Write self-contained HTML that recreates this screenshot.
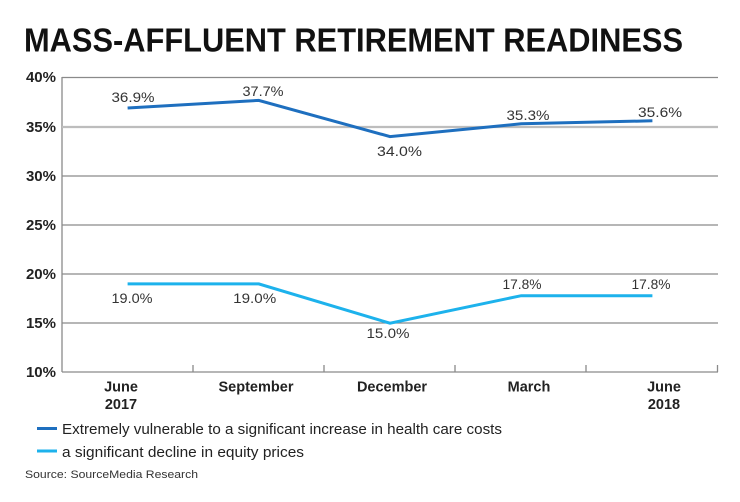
<!DOCTYPE html>
<html><head><meta charset="utf-8"><style>
html,body{margin:0;padding:0;background:#fff;}
svg{display:block;font-family:"Liberation Sans",Arial,sans-serif;}
</style></head><body>
<svg width="740" height="502" viewBox="0 0 740 502" xmlns="http://www.w3.org/2000/svg">
<rect width="740" height="502" fill="#fff"/>
<text x="24" y="51.5" font-size="33" font-weight="bold" fill="#111" textLength="659" lengthAdjust="spacingAndGlyphs">MASS-AFFLUENT RETIREMENT READINESS</text>
<!-- grid -->
<g stroke="#8a8a8a" stroke-width="1.3">
<line x1="62" y1="77.5" x2="718" y2="77.5"/>
<line x1="62" y1="176" x2="718" y2="176"/>
<line x1="62" y1="225" x2="718" y2="225"/>
<line x1="62" y1="274" x2="718" y2="274"/>
<line x1="62" y1="323" x2="718" y2="323"/>
<line x1="62" y1="372" x2="718" y2="372"/>
<line x1="62" y1="77" x2="62" y2="372"/>
<line x1="193" y1="365" x2="193" y2="372"/>
<line x1="324" y1="365" x2="324" y2="372"/>
<line x1="455" y1="365" x2="455" y2="372"/>
<line x1="586" y1="365" x2="586" y2="372"/>
<line x1="717.5" y1="365" x2="717.5" y2="372"/>
</g>
<line x1="62" y1="127" x2="718" y2="127" stroke="#bdbdbd" stroke-width="2.2"/>
<!-- y labels -->
<g font-size="15" font-weight="bold" fill="#222" text-anchor="end">
<text x="56" y="82">40%</text>
<text x="56" y="132">35%</text>
<text x="56" y="181">30%</text>
<text x="56" y="230">25%</text>
<text x="56" y="279">20%</text>
<text x="56" y="328">15%</text>
<text x="56" y="377">10%</text>
</g>
<!-- series -->
<polyline points="127.6,108 258.8,100.4 390,136.6 521.2,123.8 652.4,120.8" fill="none" stroke="#1e6fbf" stroke-width="3"/>
<polyline points="127.6,283.9 258.8,283.9 390,323.2 521.2,295.7 652.4,295.7" fill="none" stroke="#1db2ec" stroke-width="3"/>
<!-- data labels -->
<g font-size="14" fill="#333" text-anchor="middle">
<text x="133" y="102" textLength="43" lengthAdjust="spacingAndGlyphs">36.9%</text>
<text x="263" y="96" textLength="41" lengthAdjust="spacingAndGlyphs">37.7%</text>
<text x="399.5" y="156" textLength="45" lengthAdjust="spacingAndGlyphs">34.0%</text>
<text x="528" y="120" textLength="43" lengthAdjust="spacingAndGlyphs">35.3%</text>
<text x="660" y="117" textLength="44" lengthAdjust="spacingAndGlyphs">35.6%</text>
<text x="132" y="303" textLength="41" lengthAdjust="spacingAndGlyphs">19.0%</text>
<text x="254.7" y="303" textLength="43" lengthAdjust="spacingAndGlyphs">19.0%</text>
<text x="388" y="338" textLength="43" lengthAdjust="spacingAndGlyphs">15.0%</text>
<text x="522" y="289" textLength="39" lengthAdjust="spacingAndGlyphs">17.8%</text>
<text x="651" y="289" textLength="39" lengthAdjust="spacingAndGlyphs">17.8%</text>
</g>
<!-- x labels -->
<g font-size="14.5" font-weight="bold" fill="#222" text-anchor="middle">
<text x="121" y="391.5">June</text>
<text x="121" y="409">2017</text>
<text x="256" y="391.5">September</text>
<text x="392" y="391.5">December</text>
<text x="529" y="391.5">March</text>
<text x="664" y="391.5">June</text>
<text x="664" y="409">2018</text>
</g>
<!-- legend -->
<line x1="37" y1="428.5" x2="57" y2="428.5" stroke="#1e6fbf" stroke-width="3"/>
<line x1="37" y1="451" x2="57" y2="451" stroke="#1db2ec" stroke-width="3"/>
<g font-size="14.5" fill="#222">
<text x="62" y="434" textLength="440" lengthAdjust="spacingAndGlyphs">Extremely vulnerable to a significant increase in health care costs</text>
<text x="62" y="457" textLength="242" lengthAdjust="spacingAndGlyphs">a significant decline in equity prices</text>
</g>
<text x="25" y="478" font-size="11" fill="#333" textLength="173" lengthAdjust="spacingAndGlyphs">Source: SourceMedia Research</text>
</svg>
</body></html>
